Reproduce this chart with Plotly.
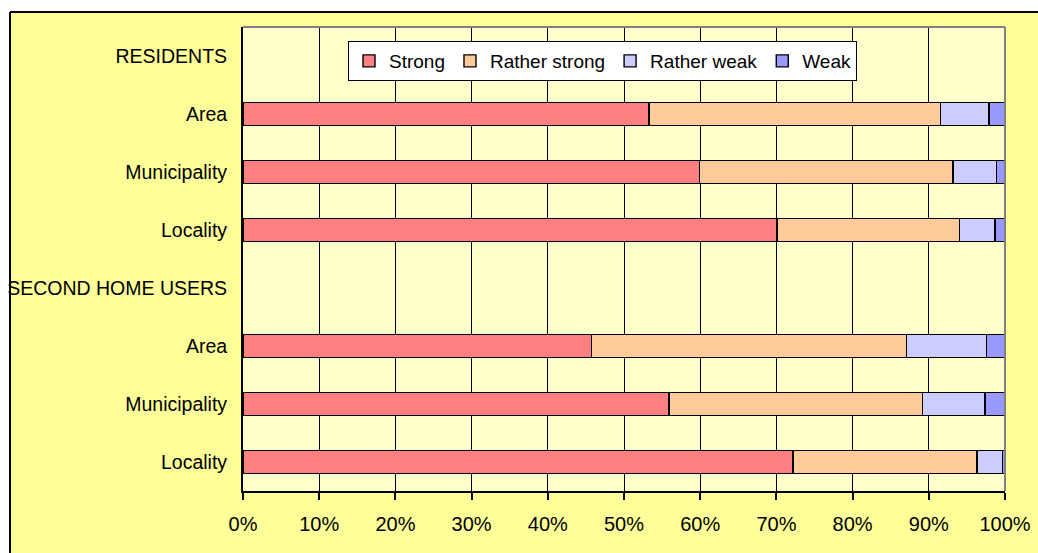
import plotly.graph_objects as go

# Categories top to bottom
categories = ["RESIDENTS", "Area", "Municipality", "Locality",
              "SECOND HOME USERS", "Area", "Municipality", "Locality"]
series_names = ["Strong", "Rather strong", "Rather weak", "Weak"]
strong        = [None, 53.3, 59.9, 70.1, None, 45.7, 55.9, 72.2]
rather_strong = [None, 38.2, 33.3, 23.9, None, 41.4, 33.3, 24.1]
rather_weak   = [None,  6.4,  5.7,  4.7, None, 10.5,  8.2,  3.4]
weak          = [None,  2.1,  1.1,  1.3, None,  2.4,  2.6,  0.3]
colors = ["#FF8080", "#FFCC99", "#CCCCFF", "#9999FF"]
x_ticks = [0, 10, 20, 30, 40, 50, 60, 70, 80, 90, 100]

positions = list(range(len(categories)))
FONT = "Liberation Sans, Arial, sans-serif"

fig = go.Figure()
for name, vals, col in zip(series_names, [strong, rather_strong, rather_weak, weak], colors):
    fig.add_trace(go.Bar(
        y=positions, x=[v / 100 if v is not None else None for v in vals],
        name=name, orientation="h",
        marker=dict(color=col, line=dict(color="black", width=1.4)),
        hoverinfo="x+name",
    ))

W, H = 1038, 553
L, R, T, B = 243, 33, 27, 62
pw, ph = W - L - R, H - T - B

def px_x(p):
    return (p - L) / pw

def px_y(p):
    return (H - B - p) / ph

shapes = [
    # white strips outside the chart area
    dict(type="rect", xref="paper", yref="paper", x0=px_x(-5), x1=px_x(W + 5),
         y0=px_y(12), y1=px_y(-5), fillcolor="white", line=dict(width=0), layer="below"),
    dict(type="rect", xref="paper", yref="paper", x0=px_x(-5), x1=px_x(10),
         y0=px_y(H + 5), y1=px_y(-5), fillcolor="white", line=dict(width=0), layer="below"),
    # chart area border
    dict(type="line", xref="paper", yref="paper", x0=px_x(10), x1=px_x(W + 5),
         y0=px_y(12), y1=px_y(12), line=dict(color="black", width=2), layer="below"),
    dict(type="line", xref="paper", yref="paper", x0=px_x(10), x1=px_x(10),
         y0=px_y(12), y1=px_y(H + 5), line=dict(color="black", width=2), layer="below"),
    # plot area grey border top/right
    dict(type="line", xref="paper", yref="paper", x0=0, x1=1, y0=1, y1=1,
         line=dict(color="#808080", width=2), layer="above"),
    dict(type="line", xref="paper", yref="paper", x0=1, x1=1, y0=0, y1=1,
         line=dict(color="#808080", width=2), layer="above"),
]

fig.update_layout(
    width=W, height=H,
    autosize=False,
    margin=dict(l=L, r=R, t=T, b=B, pad=0),
    paper_bgcolor="#FFFF99",
    plot_bgcolor="#FFFFCC",
    barmode="stack",
    bargap=0.6,
    font=dict(family=FONT, size=20, color="black"),
    shapes=shapes,
    showlegend=True,
    legend=dict(
        orientation="h", x=px_x(348), y=px_y(41), xanchor="left", yanchor="top",
        bgcolor="white", bordercolor="black", borderwidth=1,
        font=dict(family=FONT, size=19, color="black"),
        traceorder="normal", itemwidth=30,
    ),
    xaxis=dict(
        range=[0, 1], tickvals=[t / 100 for t in x_ticks],
        ticktext=[f"{t}%" for t in x_ticks],
        showgrid=True, gridcolor="black", gridwidth=1,
        showline=True, linecolor="black", linewidth=2,
        ticks="outside", ticklen=7, tickcolor="black", tickwidth=1.5,
        ticklabelstandoff=7, zeroline=False, fixedrange=True, automargin=False,
    ),
    yaxis=dict(
        range=[len(categories) - 0.5, -0.5],
        tickvals=positions, ticktext=categories,
        tickfont=dict(family=FONT, size=19.5, color="black"),
        showgrid=False, showline=True, linecolor="black", linewidth=2,
        ticks="", ticklabelstandoff=10, zeroline=False, fixedrange=True, automargin=False,
    ),
)

fig.write_html("out.html", config={"displayModeBar": False},
               post_script="document.body.style.margin='0';")
